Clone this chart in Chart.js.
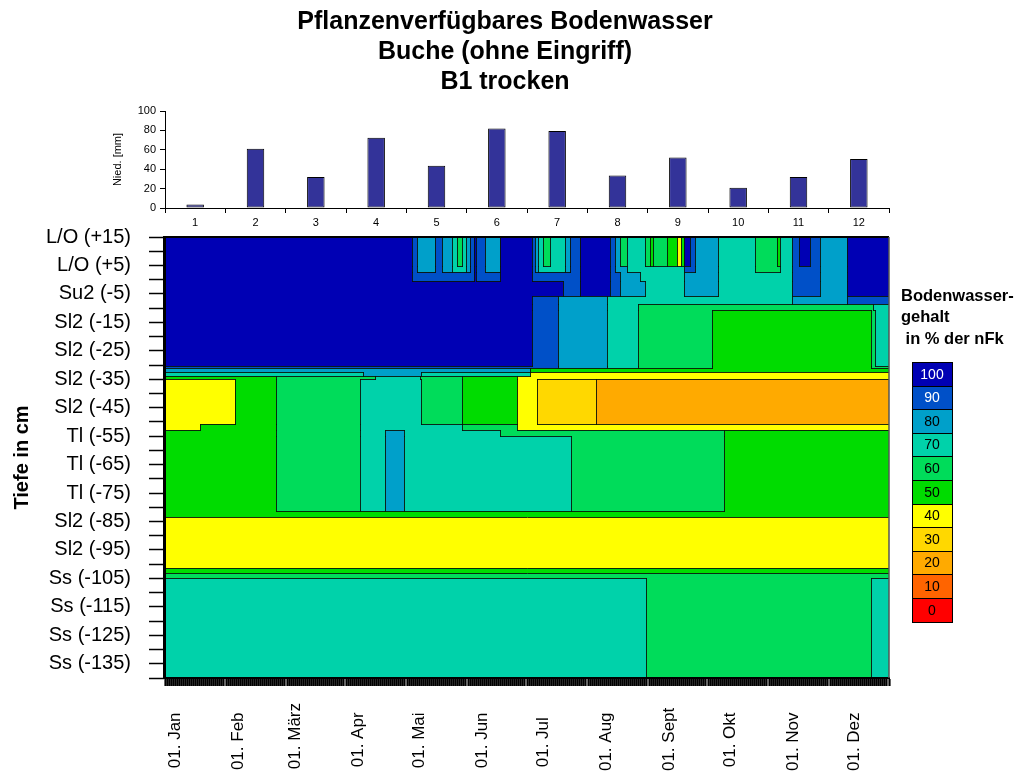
<!DOCTYPE html>
<html>
<head>
<meta charset="utf-8">
<title>Pflanzenverfügbares Bodenwasser</title>
<script src="https://cdn.jsdelivr.net/npm/chart.js@4.4.1/dist/chart.umd.min.js"></script>
<style>
  html, body { margin: 0; padding: 0; background: #ffffff; }
  #wrap { position: relative; width: 1018px; height: 774px; overflow: hidden; }
  #precip { position: absolute; left: 0; top: 0; }
  #soil { position: absolute; left: 0; top: 205px; }
</style>
</head>
<body>
<div id="wrap">
  <canvas id="precip" width="1018" height="232"></canvas>
  <canvas id="soil" width="1018" height="569"></canvas>
</div>
<script>
// ---- Monthly precipitation (mm) ----
const months = ['1', '2', '3', '4', '5', '6', '7', '8', '9', '10', '11', '12'];
const precipitation = [3.5, 61, 32, 72.5, 43.5, 82, 79.5, 33.5, 52, 21, 32, 50.5];

// ---- Chart titles ----
const titleLines = ['Pflanzenverfügbares Bodenwasser', 'Buche (ohne Eingriff)', 'B1 trocken'];
const legendTitle = ['Bodenwasser-', 'gehalt', ' in % der nFk'];

// ---- Time axis (day of year, 0 = 1 Jan) ----
const monthStarts = [0, 31, 59, 90, 120, 151, 181, 212, 243, 273, 304, 334];
const monthLabels = ['01. Jan', '01. Feb', '01. März', '01. Apr', '01. Mai', '01. Jun',
                     '01. Jul', '01. Aug', '01. Sept', '01. Okt', '01. Nov', '01. Dez'];
const dayMin = -5;
const dayMax = 351;

// ---- Depth axis (cm, relative to mineral soil surface) ----
const depthTickValues = [15, 5, -5, -15, -25, -35, -45, -55, -65, -75, -85, -95, -105, -115, -125, -135];
const depthTickLabels = ['L/O (+15)', 'L/O (+5)', 'Su2 (-5)', 'Sl2 (-15)', 'Sl2 (-25)', 'Sl2 (-35)',
                         'Sl2 (-45)', 'Tl (-55)', 'Tl (-65)', 'Tl (-75)', 'Sl2 (-85)', 'Sl2 (-95)',
                         'Ss (-105)', 'Ss (-115)', 'Ss (-125)', 'Ss (-135)'];

// ---- Colour classes: plant-available water in % of nFK ----
const levels = [100, 90, 80, 70, 60, 50, 40, 30, 20, 10, 0];
const levelColors = ['#0000B4', '#0050C8', '#00A0CA', '#00D2AA', '#00DC5A', '#00DC00',
                     '#FFFF00', '#FFD800', '#FFAA00', '#FF6400', '#FF0000'];

// ---- Soil water field: depth band edges (cm) ----
const bandEdges = [15, 4.8, 2.7, -0.5, -5.7, -8.5, -10.7, -30.3, -31.0, -32.4, -33.8, -35.0,
                   -50.8, -52.8, -55.0, -81.3, -83.5, -101.3, -103.1, -105, -140];

// Each band: [fromDay, toDay, class] runs
const band01 = [[-5,116.5,100],[116.5,119,90],[119,128,80],[128,131,90],[131,136,80],[136,138.5,70],[138.5,141,60],[141,143,70],[143,145,80],[145,147,90],[147,148,100],[148,152.5,90],[152.5,159.5,80],[159.5,175.5,100],[175.5,177,90],[177,178.5,80],[178.5,181,70],[181,184.5,60],[184.5,191.5,70],[191.5,194,80],[194,199,90],[199,214,100],[214,216.5,90],[216.5,218.5,80],[218.5,222,60],[222,231,70],[231,233.5,60],[233.5,235,50],[235,242,60],[242,247,50],[247,248.5,40],[248.5,250,50],[250,253,100],[253,255.5,90],[255.5,267,80],[267,285,70],[285,296,60],[296,297.5,50],[297.5,303.5,70],[303.5,306.5,90],[306.5,312,100],[312,317,90],[317,330.5,80],[330.5,351,100]];
const band02 = [[-5,116.5,100],[116.5,119,90],[119,128,80],[128,131,90],[131,136,80],[136,143,70],[143,145,80],[145,147,90],[147,148,100],[148,152.5,90],[152.5,159.5,80],[159.5,175.5,100],[175.5,177,90],[177,178.5,80],[178.5,191.5,70],[191.5,194,80],[194,199,90],[199,214,100],[214,216.5,90],[216.5,222,80],[222,250,70],[250,255.5,90],[255.5,267,80],[267,285,70],[285,297.5,60],[297.5,303.5,70],[303.5,317,90],[317,330.5,80],[330.5,351,100]];
const band03 = [[-5,116.5,100],[116.5,147,90],[147,148,100],[148,159.5,90],[159.5,175.5,100],[175.5,199,90],[199,214,100],[214,218.5,90],[218.5,228.5,80],[228.5,250,70],[250,267,80],[267,303.5,70],[303.5,317,90],[317,330.5,80],[330.5,351,100]];
const band04 = [[-5,190.5,100],[190.5,199,90],[199,214,100],[214,218.5,90],[218.5,231,80],[231,250,70],[250,267,80],[267,303.5,70],[303.5,317,90],[317,330.5,80],[330.5,351,100]];
const band05 = [[-5,175.5,100],[175.5,188,90],[188,212.5,80],[212.5,303.5,70],[303.5,330.5,80],[330.5,351,90]];
const band06 = [[-5,175.5,100],[175.5,188,90],[188,212.5,80],[212.5,227.5,70],[227.5,343,60],[343,351,70]];
const band07 = [[-5,175.5,100],[175.5,188,90],[188,212.5,80],[212.5,227.5,70],[227.5,264,60],[264,342,50],[342,344,60],[344,351,70]];
const band08 = [[-5,188,90],[188,212.5,80],[212.5,227.5,70],[227.5,264,60],[264,342,50],[342,351,60]];
const band09 = [[-5,174.5,80],[174.5,351,50]];
const band10 = [[-5,92.5,70],[92.5,121,80],[121,174.5,70],[174.5,351,40]];
const band11 = [[-5,49.5,50],[49.5,98.5,60],[98.5,120.5,70],[120.5,141,60],[141,168,50],[168,351,40]];
const band12 = [[-5,29.5,40],[29.5,49.5,50],[49.5,91,60],[91,121,70],[121,141,60],[141,168,50],[168,178,40],[178,207,30],[207,351,20]];
const band13 = [[-5,12,40],[12,49.5,50],[49.5,91,60],[91,141,70],[141,168,60],[168,351,40]];
const band14 = [[-5,49.5,50],[49.5,91,60],[91,103,70],[103,112.5,80],[112.5,159.5,70],[159.5,270,60],[270,351,50]];
const band15 = [[-5,49.5,50],[49.5,91,60],[91,103,70],[103,112.5,80],[112.5,194.5,70],[194.5,270,60],[270,351,50]];
const band16 = [[-5,351,50]];
const band17 = [[-5,351,40]];
const band18 = [[-5,351,50]];
const band19 = [[-5,351,60]];
const band20 = [[-5,231.5,70],[231.5,342,60],[342,351,70]];

const bands = [band01, band02, band03, band04, band05, band06, band07, band08, band09, band10,
               band11, band12, band13, band14, band15, band16, band17, band18, band19, band20];

// ---- helpers ----
const FONT = '"Liberation Sans", Arial, Helvetica, sans-serif';
Chart.defaults.font.family = FONT;
Chart.defaults.color = '#000';

const colorOf = lv => levelColors[levels.indexOf(lv)];
const levelAt = (segs, d) => {
  for (const s of segs) if (d >= s[0] && d < s[1]) return s[2];
  return null;
};

// Month labels are padded so that the rotated texts all start on one line
const measureCtx = document.createElement('canvas').getContext('2d');
measureCtx.font = '17px ' + FONT;
const spaceW = measureCtx.measureText(' ').width;
const widestMonth = Math.max(...monthLabels.map(t => measureCtx.measureText(t).width));
const paddedMonthLabels = monthLabels.map(t =>
  t + ' '.repeat(Math.max(0, Math.round((widestMonth - measureCtx.measureText(t).width) / spaceW))));

const dayTicks = [];
for (let d = dayMin; d <= dayMax; d++) dayTicks.push(d);
const depthTicks = [];
for (let v = 15; v >= -140; v -= 5) depthTicks.push(v);

// ---- precipitation bars ----
new Chart(document.getElementById('precip'), {
  type: 'bar',
  data: {
    labels: months,
    datasets: [{
      data: precipitation,
      backgroundColor: '#333399',
      borderColor: '#000000',
      borderWidth: 1,
      borderSkipped: false,
      barPercentage: 0.29,
      categoryPercentage: 1
    }]
  },
  options: {
    responsive: false,
    animation: false,
    layout: { padding: { top: 7, right: 8, left: 0, bottom: 0 } },
    plugins: {
      legend: { display: false },
      tooltip: { enabled: false },
      title: {
        display: true,
        text: titleLines,
        color: '#000',
        font: { size: 25, weight: 'bold', lineHeight: 1.2 },
        padding: { top: 0, bottom: 14 }
      }
    },
    scales: {
      x: {
        grid: { display: true, drawOnChartArea: false, tickLength: 5, color: '#000', offset: true },
        border: { color: '#000', width: 1 },
        ticks: { color: '#000', font: { size: 11 }, padding: 3, maxRotation: 0 },
        afterFit: s => { s.height = 24; }
      },
      y: {
        min: 0, max: 100,
        ticks: { stepSize: 20, color: '#000', font: { size: 11 }, padding: 4 },
        grid: { drawOnChartArea: false, tickLength: 5, color: '#000' },
        border: { color: '#000', width: 1 },
        title: { display: true, text: 'Nied. [mm]', color: '#000', font: { size: 11 }, padding: { top: 111, bottom: 0 } },
        afterFit: s => { s.width = 165; }
      },
      yR: {
        type: 'linear', position: 'right', display: true,
        grid: { display: false }, border: { display: false }, ticks: { display: false },
        afterFit: s => { s.width = 121; }
      }
    }
  }
});

// ---- soil water field ----
const fieldPlugin = {
  id: 'soilField',
  beforeDatasetsDraw(chart) {
    const { ctx, chartArea, scales: { x, y } } = chart;
    const px = v => Math.round(x.getPixelForValue(v));
    const py = v => Math.round(y.getPixelForValue(v));
    ctx.save();
    ctx.beginPath();
    ctx.rect(chartArea.left, chartArea.top, chartArea.width, chartArea.height);
    ctx.clip();
    bands.forEach((segs, i) => {
      const y0 = py(bandEdges[i]), y1 = py(bandEdges[i + 1]);
      segs.forEach(([s, e, lv]) => {
        const x0 = px(s), x1 = px(e);
        ctx.fillStyle = colorOf(lv);
        ctx.fillRect(x0, y0, x1 - x0, y1 - y0);
      });
    });
    // isolines wherever the class changes
    ctx.strokeStyle = 'rgba(10,20,10,0.9)';
    ctx.lineWidth = 1;
    ctx.beginPath();
    bands.forEach((segs, i) => {
      const y0 = py(bandEdges[i]), y1 = py(bandEdges[i + 1]);
      for (let k = 1; k < segs.length; k++) {
        if (segs[k][2] !== segs[k - 1][2]) {
          const xx = px(segs[k][0]) + 0.5;
          ctx.moveTo(xx, y0);
          ctx.lineTo(xx, y1 + 1);
        }
      }
      if (i < bands.length - 1) {
        const next = bands[i + 1];
        const cuts = [...new Set([...segs.flatMap(s => [s[0], s[1]]), ...next.flatMap(s => [s[0], s[1]])])]
          .sort((a, b) => a - b);
        const yy = y1 + 0.5;
        for (let k = 0; k < cuts.length - 1; k++) {
          const mid = (cuts[k] + cuts[k + 1]) / 2;
          if (levelAt(segs, mid) !== levelAt(next, mid)) {
            ctx.moveTo(px(cuts[k]), yy);
            ctx.lineTo(px(cuts[k + 1]) + 1, yy);
          }
        }
      }
    });
    ctx.stroke();
    ctx.restore();
  },
  afterDatasetsDraw(chart) {
    const { ctx, chartArea: a } = chart;
    ctx.save();
    ctx.strokeStyle = '#000';
    ctx.lineWidth = 2;
    ctx.beginPath(); ctx.moveTo(a.left, a.top); ctx.lineTo(a.right, a.top); ctx.stroke();
    ctx.lineWidth = 3;
    ctx.beginPath(); ctx.moveTo(a.left - 0.5, a.top - 1); ctx.lineTo(a.left - 0.5, a.bottom + 1); ctx.stroke();
    ctx.lineWidth = 2;
    ctx.beginPath(); ctx.moveTo(a.left, a.bottom); ctx.lineTo(a.right, a.bottom); ctx.stroke();
    ctx.strokeStyle = '#555';
    ctx.lineWidth = 1.5;
    ctx.beginPath(); ctx.moveTo(a.right, a.top); ctx.lineTo(a.right, a.bottom); ctx.stroke();
    ctx.restore();
  }
};

const colorScalePlugin = {
  id: 'nfkColorScale',
  afterDraw(chart) {
    const { ctx, chartArea: a } = chart;
    ctx.save();
    ctx.fillStyle = '#000';
    ctx.font = 'bold 16.5px ' + FONT;
    ctx.textAlign = 'left';
    ctx.textBaseline = 'middle';
    legendTitle.forEach((t, i) => ctx.fillText(t, a.right + 12, a.top + 59 + i * 21.5));
    const bx = a.right + 23, bw = 40, bh = 23.6, by = a.top + 125;
    ctx.font = '14px ' + FONT;
    ctx.textAlign = 'center';
    levels.forEach((lv, i) => {
      const y0 = Math.round(by + i * bh), y1 = Math.round(by + (i + 1) * bh);
      ctx.fillStyle = levelColors[i];
      ctx.fillRect(bx, y0, bw, y1 - y0);
      ctx.strokeStyle = '#000';
      ctx.lineWidth = 1;
      ctx.strokeRect(bx + 0.5, y0 + 0.5, bw, y1 - y0);
      ctx.fillStyle = i < 2 ? '#ffffff' : '#000000';
      ctx.fillText(String(lv), bx + bw / 2, (y0 + y1) / 2 + 1);
    });
    ctx.restore();
  }
};

new Chart(document.getElementById('soil'), {
  type: 'scatter',
  data: { datasets: [] },
  options: {
    responsive: false,
    animation: false,
    layout: { padding: { top: 32, right: 129, left: 0, bottom: 0 } },
    plugins: { legend: { display: false }, tooltip: { enabled: false } },
    scales: {
      x: {
        type: 'linear', min: dayMin, max: dayMax,
        afterBuildTicks: s => { s.ticks = dayTicks.map(v => ({ value: v })); },
        ticks: {
          autoSkip: false, minRotation: 90, maxRotation: 90, color: '#000',
          font: { size: 17 }, padding: 17,
          callback: v => { const k = monthStarts.indexOf(v); return k >= 0 ? paddedMonthLabels[k] : ''; }
        },
        grid: { drawOnChartArea: false, tickLength: 8, color: '#000', tickWidth: 2.2 },
        border: { color: '#000', width: 2 },
        afterFit: s => { s.height = 96; }
      },
      y: {
        type: 'linear', min: -140, max: 15,
        afterBuildTicks: s => { s.ticks = depthTicks.map(v => ({ value: v })); },
        ticks: {
          autoSkip: false, color: '#000', font: { size: 20 }, padding: 18,
          callback: v => { const k = depthTickValues.indexOf(v); return k >= 0 ? depthTickLabels[k] : ''; }
        },
        grid: { drawOnChartArea: false, tickLength: 16, color: '#000', tickWidth: 1.5 },
        border: { color: '#000', width: 3 },
        title: { display: true, text: 'Tiefe in cm', color: '#000', font: { size: 20, weight: 'bold' }, padding: { top: 10, bottom: 0 } },
        afterFit: s => { s.width = 165; }
      }
    }
  },
  plugins: [fieldPlugin, colorScalePlugin]
});
</script>
</body>
</html>
